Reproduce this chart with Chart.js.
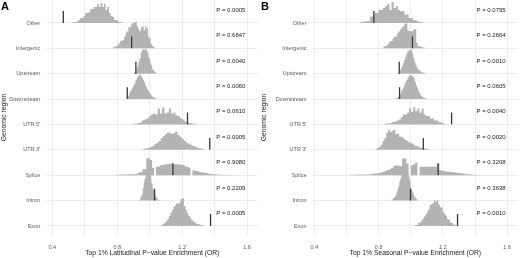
<!DOCTYPE html>
<html>
<head>
<meta charset="utf-8">
<script src="https://cdn.jsdelivr.net/npm/chart.js@4.4.1/dist/chart.umd.min.js"></script>
<style>
  html, body { margin: 0; padding: 0; background: #fff; }
  #wrap { position: relative; width: 520px; height: 258px; }
  canvas { position: absolute; top: 0; }
</style>
</head>
<body>
<div id="wrap">
  <canvas id="chartA" width="260" height="258" style="left:0"></canvas>
  <canvas id="chartB" width="260" height="258" style="left:260px"></canvas>
</div>
<script>
var regions = ["Other", "Intergenic", "Upstream", "Downstream", "UTR 5'", "UTR 3'", "Splice", "Intron", "Exon"];
var xGrid = [0.4, 0.6, 0.8, 1.0, 1.2, 1.4, 1.6];
var xTicks = [0.4, 0.8, 1.2, 1.6];

// A: latitudinal. histogram range per region, equal bins (height in % of a row)
var latRange = [[0.519, 0.833], [0.774, 1.032], [0.897, 1.044], [0.854, 1.050], [0.884, 1.297],
                [0.952, 1.340], [0.790, 1.500], [0.927, 1.063], [1.063, 1.340]];
var latCounts = [
  [2,3,4,6,12,20,20,28,39,39,43,55,55,63,63,75,63,79,63,75,51,63,39,28,24,12,12,6,4,2],
  [4,6,8,12,20,28,32,32,47,63,67,83,83,95,102,102,106,87,75,67,83,87,71,87,79,47,39,16,8,4],
  [2,4,6,8,16,24,35,47,59,75,83,91,95,98,98,95,98,91,87,75,63,51,39,32,24,16,12,8,4,2],
  [2,4,12,24,32,39,47,55,63,75,83,91,95,98,91,83,75,67,55,47,39,32,24,20,12,8,6,4,2,1],
  [1,2,4,6,8,16,20,24,32,39,43,39,63,43,67,43,47,63,43,47,35,32,24,20,12,8,6,4,2,1],
  [2,4,6,8,12,16,24,28,35,47,55,63,67,67,63,67,71,59,51,43,35,28,24,20,16,12,8,6,4,2],
  [2,2,3,3,3,3,4,4,4,4,5,7,12,12,24,24,67,67,60,30,0,33,33,39,40,42,43,44,45,45,
   43,43,43,42,41,40,34,32,30,0,20,18,17,14,12,11,10,8,7,5,4,4,3,3,2,2,1,1,1,1],
  [1,2,4,8,16,24,35,51,71,87,102,114,122,126,122,118,110,99,83,67,51,39,32,24,16,12,8,4,2,1],
  [2,4,8,12,20,28,39,51,63,75,83,91,87,95,106,110,79,63,51,39,32,24,18,14,10,8,6,4,2,1]
];
var latObserved = [0.468, 0.889, 0.915, 0.862, 1.233, 1.370, 1.143, 1.030, 1.375];
var latP = ["0.0005", "0.6847", "0.0040", "0.0060", "0.0610", "0.0005", "0.9080", "0.2209", "0.0005"];

// B: seasonal
var seaRange = [[0.680, 1.080], [0.822, 1.098], [0.908, 1.098], [0.900, 1.098], [0.834, 1.222],
                [0.778, 1.123], [0.618, 1.437], [0.877, 1.049], [1.018, 1.289]];
var seaCounts = [
  [2,4,6,7,8,26,26,39,39,51,51,59,66,76,51,82,59,66,51,46,46,33,33,20,20,11,11,6,4,2],
  [2,8,8,12,20,28,28,39,47,47,59,67,75,82,87,98,98,71,67,67,67,75,75,22,9,8,6,4,2,1],
  [1,2,4,8,16,24,32,43,55,67,79,87,91,95,95,91,79,63,47,35,28,20,16,12,8,6,4,4,2,1],
  [1,2,4,8,12,20,32,39,47,59,67,75,83,91,95,95,91,87,79,67,55,43,32,24,16,12,8,6,4,2],
  [2,4,4,6,11,11,16,20,29,39,39,46,63,50,68,52,63,46,63,39,33,33,24,24,16,16,9,9,4,2],
  [2,7,12,20,35,46,66,79,70,75,79,63,63,52,52,46,39,35,30,26,24,17,16,12,9,8,6,4,3,1],
  [2,2,2,3,3,3,3,3,3,4,5,7,7,9,11,14,17,21,24,30,37,39,37,35,66,66,46,0,39,43,
   50,0,33,33,33,33,33,33,33,33,46,20,18,16,15,14,13,12,11,10,8,7,6,4,4,3,2,1,1,1],
  [2,4,8,12,16,24,35,47,59,75,87,98,106,114,118,122,118,114,106,95,79,55,43,35,24,16,12,8,4,2],
  [2,4,4,13,13,20,29,37,46,55,66,82,87,92,102,95,102,85,75,72,55,47,39,28,24,13,13,6,5,2]
];
var seaObserved = [0.770, 1.010, 0.928, 0.930, 1.254, 1.078, 1.170, 0.998, 1.291];
var seaP = ["0.0795", "0.2664", "0.0010", "0.0605", "0.0040", "0.0020", "0.3208", "0.3638", "0.0010"];

var FONT = "'Liberation Sans', Arial, sans-serif";

function buildDatasets(ranges, counts, observed) {
  var ds = [];
  regions.forEach(function (name, i) {
    var row = regions.length - 1 - i;
    var lo = ranges[i][0], hi = ranges[i][1];
    var w = (hi - lo) / counts[i].length;
    // outline of the histogram: left and right edge of every bin
    var pts = [{ x: lo, y: row }];
    counts[i].forEach(function (c, k) {
      pts.push({ x: lo + k * w, y: row + c / 100 });
      pts.push({ x: lo + (k + 1) * w, y: row + c / 100 });
    });
    pts.push({ x: hi, y: row });
    ds.push({
      data: pts, fill: { value: row }, tension: 0,
      backgroundColor: "#b3b3b3", borderColor: "rgba(0,0,0,0)", borderWidth: 0,
      pointRadius: 0, order: 10 + row
    });
    // observed value
    ds.push({
      data: [{ x: observed[i], y: row }, { x: observed[i], y: row + 0.47 }],
      borderColor: "#383838", borderWidth: 1.3, pointRadius: 0, fill: false, order: 0
    });
  });
  return ds;
}

function labelsPlugin(letter, pvals) {
  return {
    id: "labels" + letter,
    afterDatasetsDraw: function (chart) {
      var ctx = chart.ctx, xs = chart.scales.x, ys = chart.scales.y;
      ctx.save();
      ctx.fillStyle = "#1a1a1a";
      ctx.font = "6px " + FONT;
      ctx.textAlign = "center";
      ctx.textBaseline = "middle";
      pvals.forEach(function (p, i) {
        var row = regions.length - 1 - i;
        ctx.fillText("P = " + p, xs.getPixelForValue(1.5), ys.getPixelForValue(row + 0.5));
      });
      ctx.font = "bold 11px " + FONT;
      ctx.textAlign = "left";
      ctx.textBaseline = "top";
      ctx.fillStyle = "#000";
      ctx.fillText(letter, 1, 1);
      ctx.restore();
    }
  };
}

function makeChart(id, letter, opts) {
  return new Chart(document.getElementById(id), {
    type: "line",
    data: { datasets: buildDatasets(opts.range, opts.counts, opts.observed) },
    options: {
      responsive: false,
      animation: false,
      events: [],
      layout: { padding: { right: opts.padRight, top: 0, bottom: 0, left: 0 } },
      plugins: { legend: { display: false }, tooltip: { enabled: false } },
      scales: {
        x: {
          type: "linear", min: opts.xmin, max: opts.xmax, bounds: "data",
          afterBuildTicks: function (s) { s.ticks = xGrid.map(function (v) { return { value: v }; }); },
          afterFit: function (s) { s.height = 23; },
          ticks: {
            padding: 9, color: "#5a5a5a", font: { family: FONT, size: 5.5 },
            maxRotation: 0, autoSkip: false,
            callback: function (v) {
              return xTicks.some(function (t) { return Math.abs(t - v) < 1e-9; }) ? v.toFixed(1) : "";
            }
          },
          grid: { color: "#e8e8e8", lineWidth: 0.8, drawTicks: false },
          border: { display: false },
          title: { display: true, text: opts.title, color: "#1a1a1a", padding: { top: 0, bottom: 0.5 },
                   font: { family: FONT, size: 6.75 } }
        },
        y: {
          type: "linear", min: -0.355, max: 8.906, bounds: "data",
          afterBuildTicks: function (s) {
            s.ticks = regions.map(function (r, i) { return { value: i }; });
          },
          afterFit: function (s) { s.width = opts.yWidth; s.paddingTop = 0; s.paddingBottom = 0; },
          ticks: {
            padding: 6.5, color: "#5a5a5a", font: { family: FONT, size: 5.5 }, autoSkip: false,
            callback: function (v) { return regions[regions.length - 1 - v]; }
          },
          grid: { color: "#e8e8e8", lineWidth: 0.8, drawTicks: false },
          border: { display: false },
          title: { display: true, text: "Genomic region", color: "#1a1a1a", padding: 0,
                   font: { family: FONT, size: 6.75 } }
        }
      }
    },
    plugins: [labelsPlugin(letter, opts.p)]
  });
}

makeChart("chartA", "A", {
  range: latRange, counts: latCounts, observed: latObserved, p: latP,
  xmin: 0.3655, xmax: 1.666, yWidth: 46.7, padRight: 2,
  title: "Top 1% Latitudinal P\u2212value Enrichment (OR)"
});
makeChart("chartB", "B", {
  range: seaRange, counts: seaCounts, observed: seaObserved, p: seaP,
  xmin: 0.391, xmax: 1.665, yWidth: 53, padRight: 0,
  title: "Top 1% Seasonal P\u2212value Enrichment (OR)"
});
</script>
</body>
</html>
